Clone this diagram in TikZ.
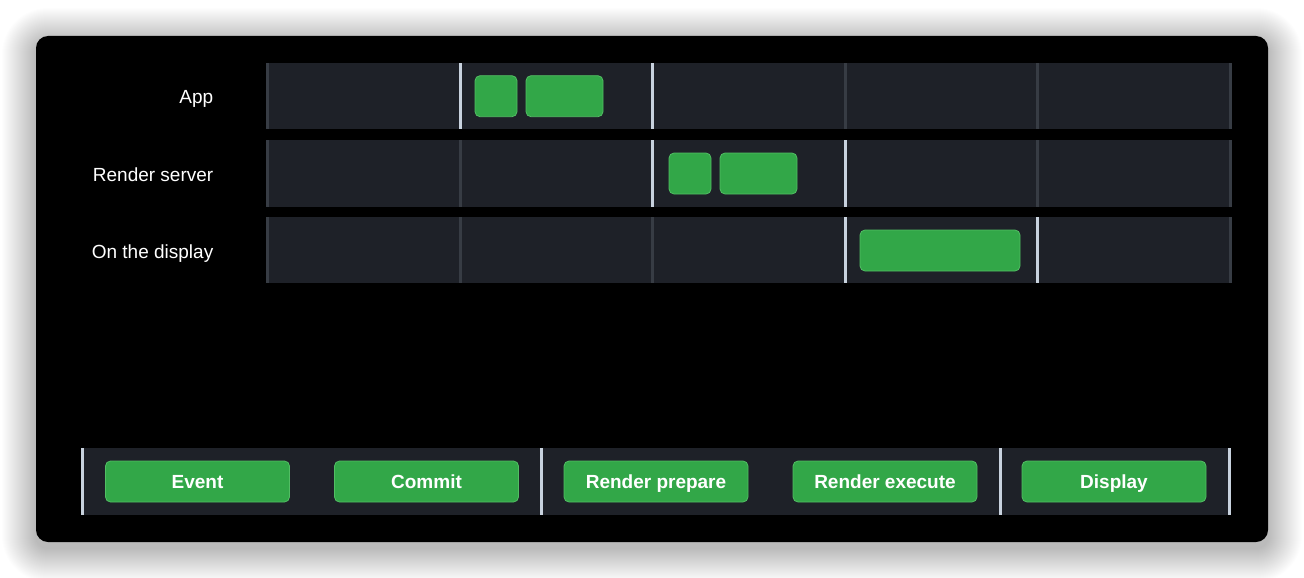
\documentclass[tikz,border=0pt]{standalone}
\usepackage{fontspec}
\setmainfont{Liberation Sans}
\definecolor{trackbg}{RGB}{30,33,40}
\definecolor{dimdiv}{RGB}{55,60,68}
\definecolor{brightdiv}{RGB}{200,210,222}
\definecolor{gfill}{RGB}{50,167,72}
\definecolor{gedge}{RGB}{82,190,100}
\tikzset{
  gblock/.style={fill=gfill, draw=gedge, line width=0.8pt, rounded corners=5pt, inner sep=0pt, minimum height=41pt},
  btn/.style={gblock, minimum width=184pt, text=white, font=\bfseries\fontsize{19}{22}\selectfont, text height=13.6pt, text depth=0pt},
  rowlabel/.style={anchor=east, text=white, font=\fontsize{19}{22}\selectfont, text height=13.6pt, text depth=0pt, inner sep=0pt},
  track/.style={fill=trackbg},
  dimbar/.style={fill=dimdiv},
  brightbar/.style={fill=brightdiv}
}
\begin{document}
\begin{tikzpicture}[x=1pt,y=-1pt]
\useasboundingbox (0,0) rectangle (1304,578);
\fill[white] (0,0) rectangle (1304,578);
% soft shadow
\foreach \i in {1,...,34}{
  \fill[black, opacity=0.0075, rounded corners=12+\i] (36-\i,36-\i+6) rectangle (1268+\i,542+\i+6);
}
% panel
\fill[black, rounded corners=12pt] (36,36) rectangle (1268,542);
% tracks
\foreach \t/\b in {63/129, 140/207, 217/283}{
  \fill[track] (266,\t) rectangle (1231,\b);
}
% dividers: row 1
\foreach \k/\s in {0/dimbar,1/brightbar,2/brightbar,3/dimbar,4/dimbar,5/dimbar}{
  \fill[\s] (266+\k*192.5,63) rectangle (269+\k*192.5,129);
}
% row 2
\foreach \k/\s in {0/dimbar,1/dimbar,2/brightbar,3/brightbar,4/dimbar,5/dimbar}{
  \fill[\s] (266+\k*192.5,140) rectangle (269+\k*192.5,207);
}
% row 3
\foreach \k/\s in {0/dimbar,1/dimbar,2/dimbar,3/brightbar,4/brightbar,5/dimbar}{
  \fill[\s] (266+\k*192.5,217) rectangle (269+\k*192.5,283);
}
% labels
\node[rowlabel] (lapp) at (213.5,97) {App};
\node[rowlabel] (lrs) at (213.5,174.5) {Render server};
\node[rowlabel] (ldisp) at (213.5,251.5) {On the display};
% blocks
\node[gblock, minimum width=42pt] (a1) at (496,96.2) {};
\node[gblock, minimum width=77pt] (a2) at (564.5,96.2) {};
\node[gblock, minimum width=42pt] (r1) at (690,173.5) {};
\node[gblock, minimum width=77pt] (r2) at (758.5,173.5) {};
\node[gblock, minimum width=160pt] (d1) at (940,250.5) {};
% bottom bar
\fill[track] (81,448) rectangle (1231,515);
\foreach \x in {81,540,999,1228}{
  \fill[brightbar] (\x,448) rectangle (\x+3,515);
}
\node[btn] (ev) at (197.5,481.5) {Event};
\node[btn] (cm) at (426.5,481.5) {Commit};
\node[btn] (rp) at (656,481.5) {Render prepare};
\node[btn] (re) at (885,481.5) {Render execute};
\node[btn] (dp) at (1114,481.5) {Display};
\end{tikzpicture}
\end{document}
